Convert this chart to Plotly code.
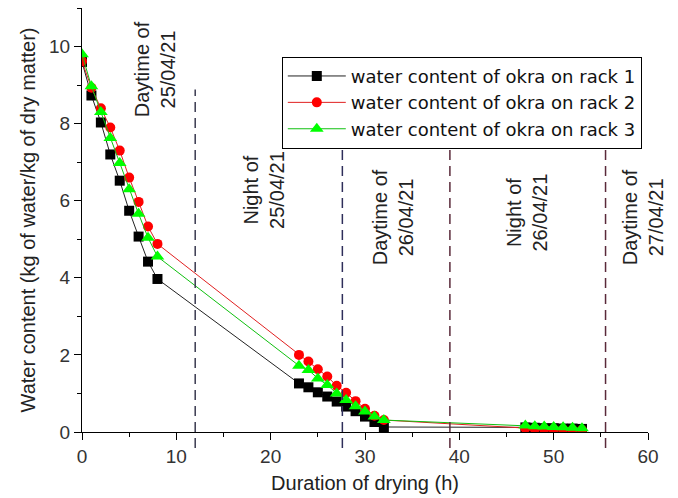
import plotly.graph_objects as go

# Duration of drying (h)
t = [0, 1, 2, 3, 4, 5, 6, 7, 8,
     23, 24, 25, 26, 27, 28, 29, 30, 31, 32,
     47, 48, 49, 50, 51, 52, 53]

rack1 = [9.60, 8.73, 8.03, 7.20, 6.52, 5.74, 5.07, 4.42, 3.97,
         1.26, 1.16, 1.03, 0.92, 0.79, 0.66, 0.54, 0.40, 0.26, 0.13,
         0.12, 0.11, 0.10, 0.10, 0.09, 0.09, 0.08]
rack2 = [9.62, 8.93, 8.40, 7.90, 7.30, 6.60, 5.97, 5.33, 4.88,
         2.00, 1.83, 1.63, 1.44, 1.20, 1.02, 0.80, 0.60, 0.42, 0.31,
         0.10, 0.08, 0.07, 0.06, 0.06, 0.05, 0.05]
rack3 = [9.80, 8.97, 8.30, 7.63, 6.98, 6.30, 5.66, 5.04, 4.55,
         1.72, 1.61, 1.39, 1.22, 1.00, 0.83, 0.67, 0.53, 0.40, 0.31,
         0.17, 0.15, 0.14, 0.13, 0.12, 0.11, 0.10]

names = ["water content of okra on rack 1",
         "water content of okra on rack 2",
         "water content of okra on rack 3"]

# period boundaries (h)
boundaries = [12, 27.6, 39, 55.5]
boundary_tops = [0.808, 0.69, 0.67, 0.67]   # paper fraction
boundary_colors = ["#3a3a50", "#2e2e5a", "#5a2a3a", "#5a2a3a"]

# period labels
labels = ["Daytime of<br>25/04/21", "Night of<br>25/04/21", "Daytime of<br>26/04/21",
          "Night of<br>26/04/21", "Daytime of<br>27/04/21"]
label_x = [7.7, 19.3, 33.0, 47.2, 59.5]
label_y = [9.4, 6.28, 5.58, 5.7, 5.58]

FONT = "Liberation Sans, Arial, sans-serif"
LEGFONT = "DejaVu Sans, Liberation Sans, sans-serif"

fig = go.Figure()
fig.add_trace(go.Scatter(x=t, y=rack1, name=names[0], mode="lines+markers",
                         line=dict(color="#222222", width=1),
                         marker=dict(symbol="square", size=10, color="black")))
fig.add_trace(go.Scatter(x=t, y=rack2, name=names[1], mode="lines+markers",
                         line=dict(color="#e02020", width=1),
                         marker=dict(symbol="circle", size=10, color="red")))
fig.add_trace(go.Scatter(x=t, y=rack3, name=names[2], mode="lines+markers",
                         line=dict(color="#10c010", width=1),
                         marker=dict(symbol="triangle-up", size=12, color="#00ff00")))

for bx, top, c in zip(boundaries, boundary_tops, boundary_colors):
    fig.add_shape(type="line", xref="x", yref="paper", x0=bx, x1=bx, y0=-0.038, y1=top,
                  line=dict(color=c, width=1.5, dash="10px,6px"))

for txt, ax_, ay_ in zip(labels, label_x, label_y):
    fig.add_annotation(x=ax_, y=ay_, xref="x", yref="y", text=txt, showarrow=False,
                       textangle=-90, font=dict(family=FONT, size=20, color="#222222"))

fig.update_layout(
    width=678, height=498,
    margin=dict(l=82, r=30, t=8, b=66),
    paper_bgcolor="white", plot_bgcolor="white",
    font=dict(family=FONT, size=19, color="#222222"),
    showlegend=True,
    legend=dict(x=0.353, y=0.885, xanchor="left", yanchor="top",
                bordercolor="black", borderwidth=1, bgcolor="white",
                font=dict(family=LEGFONT, size=18, color="#111111"),
                itemwidth=58, tracegroupgap=0),
)
fig.update_xaxes(range=[0, 60], dtick=10, showline=True, linecolor="black", linewidth=1,
                 ticks="outside", ticklen=7, tickcolor="black", showgrid=False, zeroline=False,
                 minor=dict(dtick=5, ticks="outside", ticklen=4, tickcolor="black", showgrid=False),
                 title=dict(text="Duration of drying (h)", font=dict(family=FONT, size=20), standoff=10),
                 tickfont=dict(family=FONT, size=19, color="#333333"))
fig.update_yaxes(range=[0, 11], dtick=2, showline=True, linecolor="black", linewidth=1,
                 ticks="outside", ticklen=7, tickcolor="black", showgrid=False, zeroline=False,
                 minor=dict(dtick=1, ticks="outside", ticklen=4, tickcolor="black", showgrid=False),
                 title=dict(text="Water content (kg of water/kg of dry matter)",
                            font=dict(family=FONT, size=20), standoff=8),
                 tickfont=dict(family=FONT, size=19, color="#333333"))

fig.write_html("out.html")
